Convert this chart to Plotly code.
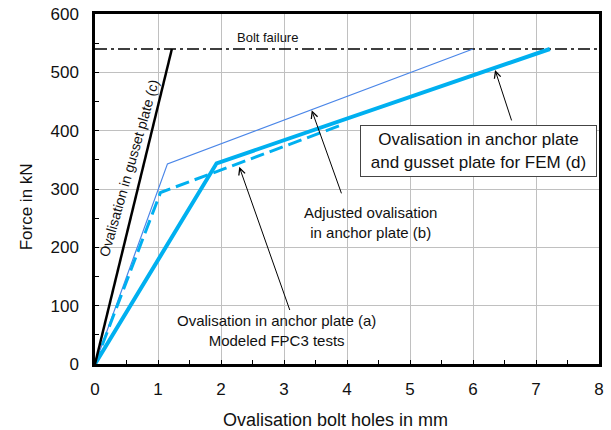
import plotly.graph_objects as go

# Data
bolt_x = [0, 8]
bolt_y = [540, 540]
gusset_x = [0, 1.22]
gusset_y = [0, 540]
adjusted_x = [0, 1.15, 6.0]
adjusted_y = [0, 343, 540]
fem_x = [0, 1.93, 7.22]
fem_y = [0, 344, 540]
fpc3_x = [0, 1.04, 3.92]
fpc3_y = [0, 294, 410]

FONT = "Liberation Sans, Arial, sans-serif"
LIGHT = "#00B0F0"
THIN = "#4A86E8"

fig = go.Figure()
fig.add_trace(go.Scatter(x=bolt_x, y=bolt_y, mode="lines",
                         line=dict(color="black", width=1.5, dash="12px,4px,3px,4px"), hoverinfo="skip"))
fig.add_trace(go.Scatter(x=adjusted_x, y=adjusted_y, mode="lines",
                         line=dict(color=THIN, width=1.2), hoverinfo="skip"))
fig.add_trace(go.Scatter(x=fpc3_x, y=fpc3_y, mode="lines",
                         line=dict(color=LIGHT, width=3, dash="14px,6px"), hoverinfo="skip"))
fig.add_trace(go.Scatter(x=fem_x, y=fem_y, mode="lines",
                         line=dict(color=LIGHT, width=4), hoverinfo="skip"))
fig.add_trace(go.Scatter(x=gusset_x, y=gusset_y, mode="lines",
                         line=dict(color="black", width=2.5), hoverinfo="skip"))

anns = []
# text labels
anns.append(dict(x=2.74, y=560, text="Bolt failure", showarrow=False,
                 font=dict(size=13, color="#111")))
anns.append(dict(x=0.54, y=336, text="Ovalisation in gusset plate (c)", showarrow=False,
                 textangle=-74, font=dict(size=14, color="#111")))
anns.append(dict(x=4.37, y=243, text="Adjusted ovalisation<br>in anchor plate (b)", showarrow=False,
                 font=dict(size=15, color="#111")))
anns.append(dict(x=2.88, y=58, text="Ovalisation in anchor plate (a)<br>Modeled FPC3 tests", showarrow=False,
                 font=dict(size=15, color="#111")))
anns.append(dict(x=6.09, y=365, text="Ovalisation in anchor plate<br>and gusset plate for FEM (d)", showarrow=False,
                 font=dict(size=17, color="#111"), bgcolor="white", bordercolor="#444", borderwidth=1,
                 width=233, height=48, borderpad=1))
# arrows
for hx, hy, tx, ty in [(3.44, 435, 3.92, 290), (2.29, 338, 3.10, 90), (6.35, 504, 6.62, 415)]:
    anns.append(dict(x=hx, y=hy, ax=tx, ay=ty, axref="x", ayref="y", text="", showarrow=True,
                     arrowhead=5, arrowsize=1.3, arrowwidth=1, arrowcolor="black"))
# axis titles
anns.append(dict(xref="paper", yref="paper", x=0.478, y=-0.16, text="Ovalisation bolt holes in mm",
                 showarrow=False, xanchor="center", yanchor="middle", font=dict(size=18, color="#111")))
anns.append(dict(xref="paper", yref="paper", x=-0.136, y=0.449, text="Force in kN", textangle=-90,
                 showarrow=False, xanchor="center", yanchor="middle", font=dict(size=17, color="#111")))

fig.update_layout(
    width=611, height=430,
    margin=dict(l=95, r=12, t=14, b=66),
    plot_bgcolor="white", paper_bgcolor="white",
    font=dict(family=FONT, size=14, color="#111"),
    showlegend=False,
    annotations=anns,
    xaxis=dict(range=[0, 8], dtick=1, showgrid=True, gridcolor="#c0c0c0", gridwidth=1,
               showline=True, linecolor="black", linewidth=2.5, mirror=True,
               ticks="inside", ticklen=4, tickcolor="black",
               minor=dict(ticks="inside", dtick=0.5, ticklen=4, tickcolor="black", showgrid=False),
               zeroline=False, tickfont=dict(size=17), ticklabelstandoff=8, automargin=False),
    yaxis=dict(range=[0, 600], dtick=100, showgrid=True, gridcolor="#c0c0c0", gridwidth=1,
               showline=True, linecolor="black", linewidth=2.5, mirror=True,
               ticks="inside", ticklen=4, tickcolor="black",
               minor=dict(ticks="inside", dtick=50, ticklen=4, tickcolor="black", showgrid=False),
               zeroline=False, tickfont=dict(size=17), ticklabelstandoff=10, automargin=False),
)

fig.write_html("out.html")
